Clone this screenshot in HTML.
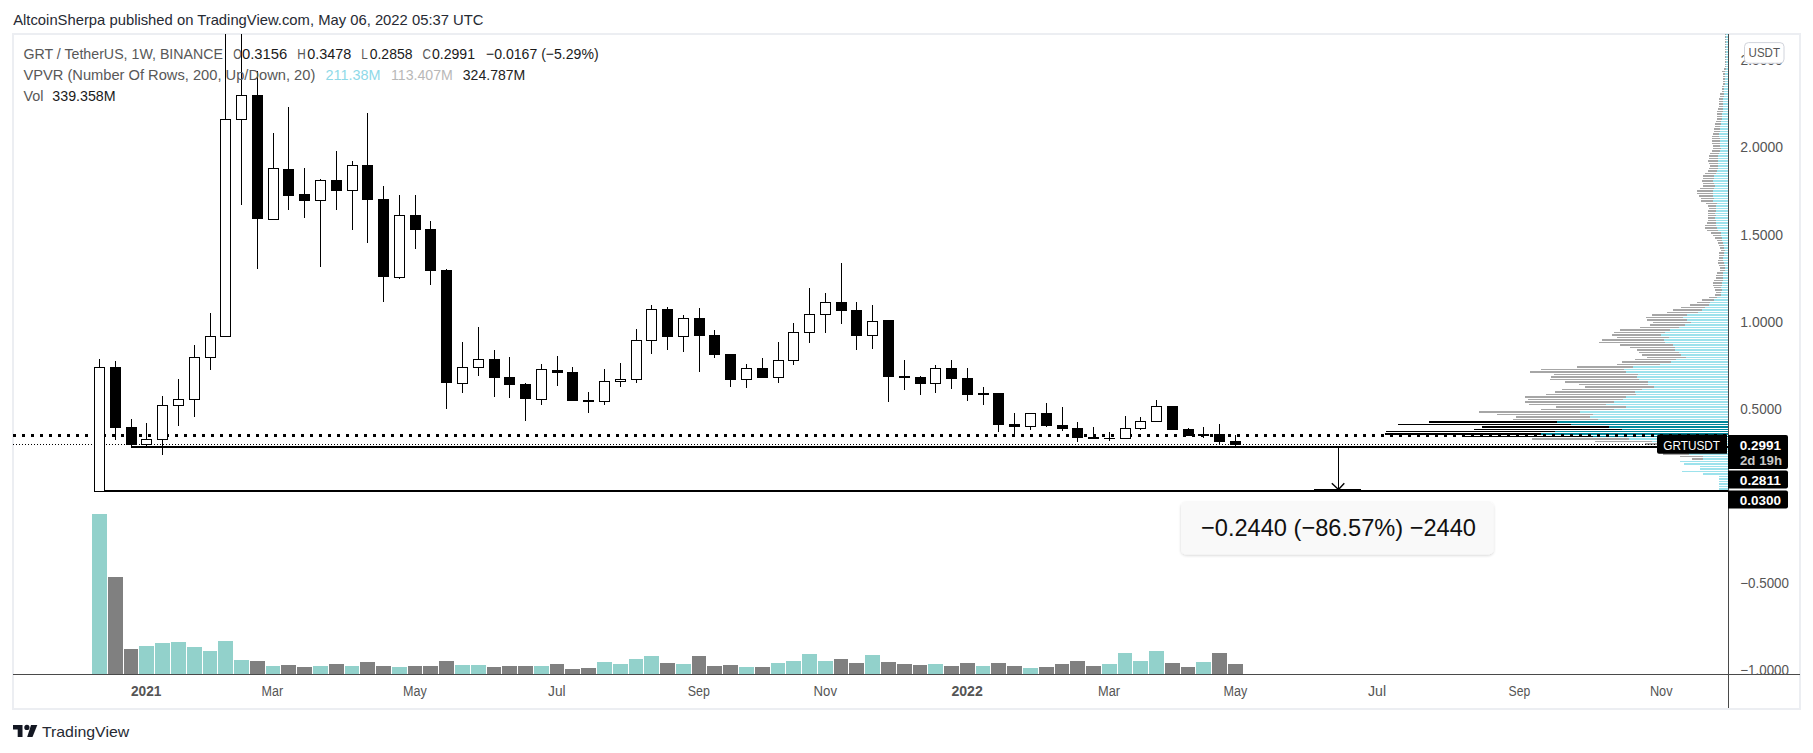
<!DOCTYPE html><html><head><meta charset="utf-8"><style>html,body{margin:0;padding:0;background:#fff}body{width:1813px;height:753px;overflow:hidden;position:relative}svg{position:absolute;left:0;top:0;font-family:"Liberation Sans",sans-serif}</style></head><body><svg width="1813" height="753" viewBox="0 0 1813 753"><rect x="12" y="33" width="1789" height="676" fill="#fff" stroke="none"/><rect x="13" y="34" width="1787" height="675" fill="none" stroke="#eceef2" stroke-width="2"/><g shape-rendering="crispEdges"><rect x="1719" y="488" width="9" height="2" fill="#9ce2ec"/><rect x="1719" y="486" width="9" height="1" fill="#9ce2ec"/><rect x="1719" y="483" width="9" height="2" fill="#9ce2ec"/><rect x="1719" y="481" width="9" height="1" fill="#9ce2ec"/><rect x="1719" y="478" width="9" height="2" fill="#9ce2ec"/><rect x="1719" y="476" width="9" height="1" fill="#9ce2ec"/><rect x="1703" y="473" width="25" height="2" fill="#9ce2ec"/><rect x="1682" y="471" width="46" height="1" fill="#9ce2ec"/><rect x="1700" y="468" width="28" height="2" fill="#9ce2ec"/><rect x="1700" y="466" width="28" height="1" fill="#9ce2ec"/><rect x="1684" y="463" width="44" height="2" fill="#9ce2ec"/><rect x="1680" y="461" width="48" height="1" fill="#9ce2ec"/><rect x="1692" y="458" width="11" height="2" fill="#a6a6a6"/><rect x="1703" y="458" width="25" height="2" fill="#9ce2ec"/><rect x="1680" y="456" width="23" height="1" fill="#a6a6a6"/><rect x="1703" y="456" width="25" height="1" fill="#9ce2ec"/><rect x="1663" y="453" width="26" height="2" fill="#a6a6a6"/><rect x="1689" y="453" width="39" height="2" fill="#9ce2ec"/><rect x="1673" y="451" width="25" height="1" fill="#a6a6a6"/><rect x="1698" y="451" width="30" height="1" fill="#9ce2ec"/><rect x="1668" y="448" width="25" height="2" fill="#a6a6a6"/><rect x="1693" y="448" width="35" height="2" fill="#9ce2ec"/><rect x="1658" y="446" width="30" height="1" fill="#a6a6a6"/><rect x="1688" y="446" width="40" height="1" fill="#9ce2ec"/><rect x="1645" y="443" width="38" height="2" fill="#a6a6a6"/><rect x="1683" y="443" width="45" height="2" fill="#9ce2ec"/><rect x="1595" y="441" width="57" height="1" fill="#a6a6a6"/><rect x="1652" y="441" width="76" height="1" fill="#9ce2ec"/><rect x="1532" y="438" width="97" height="2" fill="#a6a6a6"/><rect x="1629" y="438" width="99" height="2" fill="#9ce2ec"/><rect x="1462" y="436" width="131" height="1" fill="#000"/><rect x="1593" y="436" width="135" height="1" fill="#00879a"/><rect x="1385" y="433" width="156" height="2" fill="#000"/><rect x="1541" y="433" width="187" height="2" fill="#00879a"/><rect x="1386" y="431" width="169" height="1" fill="#000"/><rect x="1555" y="431" width="173" height="1" fill="#00879a"/><rect x="1474" y="429" width="148" height="1" fill="#000"/><rect x="1622" y="429" width="106" height="1" fill="#00879a"/><rect x="1482" y="426" width="127" height="2" fill="#000"/><rect x="1609" y="426" width="119" height="2" fill="#00879a"/><rect x="1398" y="424" width="173" height="1" fill="#000"/><rect x="1571" y="424" width="157" height="1" fill="#00879a"/><rect x="1429" y="421" width="128" height="2" fill="#000"/><rect x="1557" y="421" width="171" height="2" fill="#00879a"/><rect x="1513" y="419" width="85" height="1" fill="#a6a6a6"/><rect x="1598" y="419" width="130" height="1" fill="#9ce2ec"/><rect x="1516" y="416" width="74" height="2" fill="#a6a6a6"/><rect x="1590" y="416" width="138" height="2" fill="#9ce2ec"/><rect x="1497" y="414" width="96" height="1" fill="#a6a6a6"/><rect x="1593" y="414" width="135" height="1" fill="#9ce2ec"/><rect x="1479" y="411" width="101" height="2" fill="#a6a6a6"/><rect x="1580" y="411" width="148" height="2" fill="#9ce2ec"/><rect x="1541" y="409" width="73" height="1" fill="#a6a6a6"/><rect x="1614" y="409" width="114" height="1" fill="#9ce2ec"/><rect x="1556" y="406" width="70" height="2" fill="#a6a6a6"/><rect x="1626" y="406" width="102" height="2" fill="#9ce2ec"/><rect x="1529" y="404" width="77" height="1" fill="#a6a6a6"/><rect x="1606" y="404" width="122" height="1" fill="#9ce2ec"/><rect x="1525" y="401" width="89" height="2" fill="#a6a6a6"/><rect x="1614" y="401" width="114" height="2" fill="#9ce2ec"/><rect x="1528" y="399" width="95" height="1" fill="#a6a6a6"/><rect x="1623" y="399" width="105" height="1" fill="#9ce2ec"/><rect x="1525" y="396" width="101" height="2" fill="#a6a6a6"/><rect x="1626" y="396" width="102" height="2" fill="#9ce2ec"/><rect x="1546" y="394" width="90" height="1" fill="#a6a6a6"/><rect x="1636" y="394" width="92" height="1" fill="#9ce2ec"/><rect x="1555" y="391" width="80" height="2" fill="#a6a6a6"/><rect x="1635" y="391" width="93" height="2" fill="#9ce2ec"/><rect x="1562" y="389" width="80" height="1" fill="#a6a6a6"/><rect x="1642" y="389" width="86" height="1" fill="#9ce2ec"/><rect x="1585" y="386" width="69" height="2" fill="#a6a6a6"/><rect x="1654" y="386" width="74" height="2" fill="#9ce2ec"/><rect x="1579" y="384" width="69" height="1" fill="#a6a6a6"/><rect x="1648" y="384" width="80" height="1" fill="#9ce2ec"/><rect x="1565" y="381" width="83" height="2" fill="#a6a6a6"/><rect x="1648" y="381" width="80" height="2" fill="#9ce2ec"/><rect x="1550" y="379" width="89" height="1" fill="#a6a6a6"/><rect x="1639" y="379" width="89" height="1" fill="#9ce2ec"/><rect x="1551" y="376" width="86" height="2" fill="#a6a6a6"/><rect x="1637" y="376" width="91" height="2" fill="#9ce2ec"/><rect x="1554" y="374" width="84" height="1" fill="#a6a6a6"/><rect x="1638" y="374" width="90" height="1" fill="#9ce2ec"/><rect x="1530" y="371" width="96" height="2" fill="#a6a6a6"/><rect x="1626" y="371" width="102" height="2" fill="#9ce2ec"/><rect x="1541" y="369" width="83" height="1" fill="#a6a6a6"/><rect x="1624" y="369" width="104" height="1" fill="#9ce2ec"/><rect x="1577" y="366" width="56" height="2" fill="#a6a6a6"/><rect x="1633" y="366" width="95" height="2" fill="#9ce2ec"/><rect x="1617" y="364" width="43" height="1" fill="#a6a6a6"/><rect x="1660" y="364" width="68" height="1" fill="#9ce2ec"/><rect x="1622" y="361" width="49" height="2" fill="#a6a6a6"/><rect x="1671" y="361" width="57" height="2" fill="#9ce2ec"/><rect x="1635" y="359" width="41" height="1" fill="#a6a6a6"/><rect x="1676" y="359" width="52" height="1" fill="#9ce2ec"/><rect x="1647" y="357" width="39" height="1" fill="#a6a6a6"/><rect x="1686" y="357" width="42" height="1" fill="#9ce2ec"/><rect x="1642" y="354" width="39" height="2" fill="#a6a6a6"/><rect x="1681" y="354" width="47" height="2" fill="#9ce2ec"/><rect x="1639" y="352" width="40" height="1" fill="#a6a6a6"/><rect x="1679" y="352" width="49" height="1" fill="#9ce2ec"/><rect x="1637" y="349" width="38" height="2" fill="#a6a6a6"/><rect x="1675" y="349" width="53" height="2" fill="#9ce2ec"/><rect x="1630" y="347" width="45" height="1" fill="#a6a6a6"/><rect x="1675" y="347" width="53" height="1" fill="#9ce2ec"/><rect x="1620" y="344" width="53" height="2" fill="#a6a6a6"/><rect x="1673" y="344" width="55" height="2" fill="#9ce2ec"/><rect x="1599" y="342" width="66" height="1" fill="#a6a6a6"/><rect x="1665" y="342" width="63" height="1" fill="#9ce2ec"/><rect x="1602" y="339" width="62" height="2" fill="#a6a6a6"/><rect x="1664" y="339" width="64" height="2" fill="#9ce2ec"/><rect x="1617" y="337" width="52" height="1" fill="#a6a6a6"/><rect x="1669" y="337" width="59" height="1" fill="#9ce2ec"/><rect x="1612" y="334" width="49" height="2" fill="#a6a6a6"/><rect x="1661" y="334" width="67" height="2" fill="#9ce2ec"/><rect x="1614" y="332" width="51" height="1" fill="#a6a6a6"/><rect x="1665" y="332" width="63" height="1" fill="#9ce2ec"/><rect x="1620" y="329" width="50" height="2" fill="#a6a6a6"/><rect x="1670" y="329" width="58" height="2" fill="#9ce2ec"/><rect x="1640" y="327" width="39" height="1" fill="#a6a6a6"/><rect x="1679" y="327" width="49" height="1" fill="#9ce2ec"/><rect x="1650" y="324" width="35" height="2" fill="#a6a6a6"/><rect x="1685" y="324" width="43" height="2" fill="#9ce2ec"/><rect x="1653" y="322" width="38" height="1" fill="#a6a6a6"/><rect x="1691" y="322" width="37" height="1" fill="#9ce2ec"/><rect x="1647" y="319" width="40" height="2" fill="#a6a6a6"/><rect x="1687" y="319" width="41" height="2" fill="#9ce2ec"/><rect x="1646" y="317" width="37" height="1" fill="#a6a6a6"/><rect x="1683" y="317" width="45" height="1" fill="#9ce2ec"/><rect x="1652" y="314" width="35" height="2" fill="#a6a6a6"/><rect x="1687" y="314" width="41" height="2" fill="#9ce2ec"/><rect x="1667" y="312" width="31" height="1" fill="#a6a6a6"/><rect x="1698" y="312" width="30" height="1" fill="#9ce2ec"/><rect x="1673" y="309" width="29" height="2" fill="#a6a6a6"/><rect x="1702" y="309" width="26" height="2" fill="#9ce2ec"/><rect x="1681" y="307" width="24" height="1" fill="#a6a6a6"/><rect x="1705" y="307" width="23" height="1" fill="#9ce2ec"/><rect x="1690" y="304" width="19" height="2" fill="#a6a6a6"/><rect x="1709" y="304" width="19" height="2" fill="#9ce2ec"/><rect x="1697" y="302" width="13" height="1" fill="#a6a6a6"/><rect x="1710" y="302" width="18" height="1" fill="#9ce2ec"/><rect x="1702" y="299" width="12" height="2" fill="#a6a6a6"/><rect x="1714" y="299" width="14" height="2" fill="#9ce2ec"/><rect x="1709" y="297" width="8" height="1" fill="#a6a6a6"/><rect x="1717" y="297" width="11" height="1" fill="#9ce2ec"/><rect x="1715" y="294" width="6" height="2" fill="#a6a6a6"/><rect x="1721" y="294" width="7" height="2" fill="#9ce2ec"/><rect x="1716" y="292" width="5" height="1" fill="#a6a6a6"/><rect x="1721" y="292" width="7" height="1" fill="#9ce2ec"/><rect x="1715" y="289" width="7" height="2" fill="#a6a6a6"/><rect x="1722" y="289" width="6" height="2" fill="#9ce2ec"/><rect x="1714" y="287" width="7" height="1" fill="#a6a6a6"/><rect x="1721" y="287" width="7" height="1" fill="#9ce2ec"/><rect x="1713" y="285" width="9" height="1" fill="#a6a6a6"/><rect x="1722" y="285" width="6" height="1" fill="#9ce2ec"/><rect x="1713" y="282" width="9" height="2" fill="#a6a6a6"/><rect x="1722" y="282" width="6" height="2" fill="#9ce2ec"/><rect x="1714" y="280" width="9" height="1" fill="#a6a6a6"/><rect x="1723" y="280" width="5" height="1" fill="#9ce2ec"/><rect x="1716" y="277" width="7" height="2" fill="#a6a6a6"/><rect x="1723" y="277" width="5" height="2" fill="#9ce2ec"/><rect x="1716" y="275" width="7" height="1" fill="#a6a6a6"/><rect x="1723" y="275" width="5" height="1" fill="#9ce2ec"/><rect x="1717" y="272" width="6" height="2" fill="#a6a6a6"/><rect x="1723" y="272" width="5" height="2" fill="#9ce2ec"/><rect x="1720" y="270" width="5" height="1" fill="#a6a6a6"/><rect x="1725" y="270" width="3" height="1" fill="#9ce2ec"/><rect x="1720" y="267" width="5" height="2" fill="#a6a6a6"/><rect x="1725" y="267" width="3" height="2" fill="#9ce2ec"/><rect x="1719" y="265" width="6" height="1" fill="#a6a6a6"/><rect x="1725" y="265" width="3" height="1" fill="#9ce2ec"/><rect x="1718" y="262" width="6" height="2" fill="#a6a6a6"/><rect x="1724" y="262" width="4" height="2" fill="#9ce2ec"/><rect x="1718" y="260" width="5" height="1" fill="#a6a6a6"/><rect x="1723" y="260" width="5" height="1" fill="#9ce2ec"/><rect x="1719" y="257" width="4" height="2" fill="#a6a6a6"/><rect x="1723" y="257" width="5" height="2" fill="#9ce2ec"/><rect x="1719" y="255" width="5" height="1" fill="#a6a6a6"/><rect x="1724" y="255" width="4" height="1" fill="#9ce2ec"/><rect x="1719" y="252" width="5" height="2" fill="#a6a6a6"/><rect x="1724" y="252" width="4" height="2" fill="#9ce2ec"/><rect x="1721" y="250" width="4" height="1" fill="#a6a6a6"/><rect x="1725" y="250" width="3" height="1" fill="#9ce2ec"/><rect x="1720" y="247" width="4" height="2" fill="#a6a6a6"/><rect x="1724" y="247" width="4" height="2" fill="#9ce2ec"/><rect x="1719" y="245" width="5" height="1" fill="#a6a6a6"/><rect x="1724" y="245" width="4" height="1" fill="#9ce2ec"/><rect x="1718" y="242" width="5" height="2" fill="#a6a6a6"/><rect x="1723" y="242" width="5" height="2" fill="#9ce2ec"/><rect x="1717" y="240" width="5" height="1" fill="#a6a6a6"/><rect x="1722" y="240" width="6" height="1" fill="#9ce2ec"/><rect x="1715" y="237" width="7" height="2" fill="#a6a6a6"/><rect x="1722" y="237" width="6" height="2" fill="#9ce2ec"/><rect x="1713" y="235" width="8" height="1" fill="#a6a6a6"/><rect x="1721" y="235" width="7" height="1" fill="#9ce2ec"/><rect x="1711" y="232" width="10" height="2" fill="#a6a6a6"/><rect x="1721" y="232" width="7" height="2" fill="#9ce2ec"/><rect x="1707" y="230" width="11" height="1" fill="#a6a6a6"/><rect x="1718" y="230" width="10" height="1" fill="#9ce2ec"/><rect x="1705" y="227" width="12" height="2" fill="#a6a6a6"/><rect x="1717" y="227" width="11" height="2" fill="#9ce2ec"/><rect x="1705" y="225" width="11" height="1" fill="#a6a6a6"/><rect x="1716" y="225" width="12" height="1" fill="#9ce2ec"/><rect x="1707" y="222" width="9" height="2" fill="#a6a6a6"/><rect x="1716" y="222" width="12" height="2" fill="#9ce2ec"/><rect x="1708" y="220" width="8" height="1" fill="#a6a6a6"/><rect x="1716" y="220" width="12" height="1" fill="#9ce2ec"/><rect x="1708" y="217" width="7" height="2" fill="#a6a6a6"/><rect x="1715" y="217" width="13" height="2" fill="#9ce2ec"/><rect x="1708" y="215" width="8" height="1" fill="#a6a6a6"/><rect x="1716" y="215" width="12" height="1" fill="#9ce2ec"/><rect x="1708" y="213" width="7" height="1" fill="#a6a6a6"/><rect x="1715" y="213" width="13" height="1" fill="#9ce2ec"/><rect x="1708" y="210" width="8" height="2" fill="#a6a6a6"/><rect x="1716" y="210" width="12" height="2" fill="#9ce2ec"/><rect x="1709" y="208" width="7" height="1" fill="#a6a6a6"/><rect x="1716" y="208" width="12" height="1" fill="#9ce2ec"/><rect x="1708" y="205" width="8" height="2" fill="#a6a6a6"/><rect x="1716" y="205" width="12" height="2" fill="#9ce2ec"/><rect x="1706" y="203" width="11" height="1" fill="#a6a6a6"/><rect x="1717" y="203" width="11" height="1" fill="#9ce2ec"/><rect x="1701" y="200" width="12" height="2" fill="#a6a6a6"/><rect x="1713" y="200" width="15" height="2" fill="#9ce2ec"/><rect x="1701" y="198" width="13" height="1" fill="#a6a6a6"/><rect x="1714" y="198" width="14" height="1" fill="#9ce2ec"/><rect x="1699" y="195" width="14" height="2" fill="#a6a6a6"/><rect x="1713" y="195" width="15" height="2" fill="#9ce2ec"/><rect x="1697" y="193" width="16" height="1" fill="#a6a6a6"/><rect x="1713" y="193" width="15" height="1" fill="#9ce2ec"/><rect x="1697" y="190" width="16" height="2" fill="#a6a6a6"/><rect x="1713" y="190" width="15" height="2" fill="#9ce2ec"/><rect x="1700" y="188" width="14" height="1" fill="#a6a6a6"/><rect x="1714" y="188" width="14" height="1" fill="#9ce2ec"/><rect x="1703" y="185" width="12" height="2" fill="#a6a6a6"/><rect x="1715" y="185" width="13" height="2" fill="#9ce2ec"/><rect x="1703" y="183" width="11" height="1" fill="#a6a6a6"/><rect x="1714" y="183" width="14" height="1" fill="#9ce2ec"/><rect x="1702" y="180" width="11" height="2" fill="#a6a6a6"/><rect x="1713" y="180" width="15" height="2" fill="#9ce2ec"/><rect x="1703" y="178" width="11" height="1" fill="#a6a6a6"/><rect x="1714" y="178" width="14" height="1" fill="#9ce2ec"/><rect x="1703" y="175" width="11" height="2" fill="#a6a6a6"/><rect x="1714" y="175" width="14" height="2" fill="#9ce2ec"/><rect x="1705" y="173" width="11" height="1" fill="#a6a6a6"/><rect x="1716" y="173" width="12" height="1" fill="#9ce2ec"/><rect x="1708" y="170" width="9" height="2" fill="#a6a6a6"/><rect x="1717" y="170" width="11" height="2" fill="#9ce2ec"/><rect x="1709" y="168" width="9" height="1" fill="#a6a6a6"/><rect x="1718" y="168" width="10" height="1" fill="#9ce2ec"/><rect x="1710" y="165" width="8" height="2" fill="#a6a6a6"/><rect x="1718" y="165" width="10" height="2" fill="#9ce2ec"/><rect x="1709" y="163" width="9" height="1" fill="#a6a6a6"/><rect x="1718" y="163" width="10" height="1" fill="#9ce2ec"/><rect x="1708" y="160" width="10" height="2" fill="#a6a6a6"/><rect x="1718" y="160" width="10" height="2" fill="#9ce2ec"/><rect x="1709" y="158" width="9" height="1" fill="#a6a6a6"/><rect x="1718" y="158" width="10" height="1" fill="#9ce2ec"/><rect x="1709" y="155" width="9" height="2" fill="#a6a6a6"/><rect x="1718" y="155" width="10" height="2" fill="#9ce2ec"/><rect x="1710" y="153" width="9" height="1" fill="#a6a6a6"/><rect x="1719" y="153" width="9" height="1" fill="#9ce2ec"/><rect x="1712" y="150" width="8" height="2" fill="#a6a6a6"/><rect x="1720" y="150" width="8" height="2" fill="#9ce2ec"/><rect x="1713" y="148" width="8" height="1" fill="#a6a6a6"/><rect x="1721" y="148" width="7" height="1" fill="#9ce2ec"/><rect x="1713" y="145" width="7" height="2" fill="#a6a6a6"/><rect x="1720" y="145" width="8" height="2" fill="#9ce2ec"/><rect x="1712" y="143" width="8" height="1" fill="#a6a6a6"/><rect x="1720" y="143" width="8" height="1" fill="#9ce2ec"/><rect x="1712" y="140" width="8" height="2" fill="#a6a6a6"/><rect x="1720" y="140" width="8" height="2" fill="#9ce2ec"/><rect x="1712" y="138" width="8" height="1" fill="#a6a6a6"/><rect x="1720" y="138" width="8" height="1" fill="#9ce2ec"/><rect x="1712" y="136" width="7" height="1" fill="#a6a6a6"/><rect x="1719" y="136" width="9" height="1" fill="#9ce2ec"/><rect x="1713" y="133" width="6" height="2" fill="#a6a6a6"/><rect x="1719" y="133" width="9" height="2" fill="#9ce2ec"/><rect x="1714" y="131" width="6" height="1" fill="#a6a6a6"/><rect x="1720" y="131" width="8" height="1" fill="#9ce2ec"/><rect x="1714" y="128" width="6" height="2" fill="#a6a6a6"/><rect x="1720" y="128" width="8" height="2" fill="#9ce2ec"/><rect x="1715" y="126" width="5" height="1" fill="#a6a6a6"/><rect x="1720" y="126" width="8" height="1" fill="#9ce2ec"/><rect x="1715" y="123" width="6" height="2" fill="#a6a6a6"/><rect x="1721" y="123" width="7" height="2" fill="#9ce2ec"/><rect x="1716" y="121" width="5" height="1" fill="#a6a6a6"/><rect x="1721" y="121" width="7" height="1" fill="#9ce2ec"/><rect x="1717" y="118" width="5" height="2" fill="#a6a6a6"/><rect x="1722" y="118" width="6" height="2" fill="#9ce2ec"/><rect x="1717" y="116" width="5" height="1" fill="#a6a6a6"/><rect x="1722" y="116" width="6" height="1" fill="#9ce2ec"/><rect x="1717" y="113" width="5" height="2" fill="#a6a6a6"/><rect x="1722" y="113" width="6" height="2" fill="#9ce2ec"/><rect x="1717" y="111" width="6" height="1" fill="#a6a6a6"/><rect x="1723" y="111" width="5" height="1" fill="#9ce2ec"/><rect x="1718" y="108" width="5" height="2" fill="#a6a6a6"/><rect x="1723" y="108" width="5" height="2" fill="#9ce2ec"/><rect x="1719" y="106" width="4" height="1" fill="#a6a6a6"/><rect x="1723" y="106" width="5" height="1" fill="#9ce2ec"/><rect x="1719" y="103" width="4" height="2" fill="#a6a6a6"/><rect x="1723" y="103" width="5" height="2" fill="#9ce2ec"/><rect x="1719" y="101" width="4" height="1" fill="#a6a6a6"/><rect x="1723" y="101" width="5" height="1" fill="#9ce2ec"/><rect x="1719" y="98" width="4" height="2" fill="#a6a6a6"/><rect x="1723" y="98" width="5" height="2" fill="#9ce2ec"/><rect x="1720" y="96" width="4" height="1" fill="#a6a6a6"/><rect x="1724" y="96" width="4" height="1" fill="#9ce2ec"/><rect x="1720" y="93" width="4" height="2" fill="#a6a6a6"/><rect x="1724" y="93" width="4" height="2" fill="#9ce2ec"/><rect x="1722" y="91" width="2" height="1" fill="#a6a6a6"/><rect x="1724" y="91" width="4" height="1" fill="#9ce2ec"/><rect x="1722" y="88" width="2" height="2" fill="#a6a6a6"/><rect x="1724" y="88" width="4" height="2" fill="#9ce2ec"/><rect x="1722" y="86" width="2" height="1" fill="#a6a6a6"/><rect x="1724" y="86" width="4" height="1" fill="#9ce2ec"/><rect x="1723" y="83" width="2" height="2" fill="#a6a6a6"/><rect x="1725" y="83" width="3" height="2" fill="#9ce2ec"/><rect x="1723" y="81" width="2" height="1" fill="#a6a6a6"/><rect x="1725" y="81" width="3" height="1" fill="#9ce2ec"/><rect x="1723" y="78" width="2" height="2" fill="#a6a6a6"/><rect x="1725" y="78" width="3" height="2" fill="#9ce2ec"/><rect x="1723" y="76" width="2" height="1" fill="#a6a6a6"/><rect x="1725" y="76" width="3" height="1" fill="#9ce2ec"/><rect x="1723" y="73" width="2" height="2" fill="#a6a6a6"/><rect x="1725" y="73" width="3" height="2" fill="#9ce2ec"/><rect x="1722" y="71" width="3" height="1" fill="#a6a6a6"/><rect x="1725" y="71" width="3" height="1" fill="#9ce2ec"/><rect x="1724" y="68" width="2" height="2" fill="#a6a6a6"/><rect x="1726" y="68" width="2" height="2" fill="#9ce2ec"/><rect x="1725" y="66" width="1" height="1" fill="#a6a6a6"/><rect x="1726" y="66" width="2" height="1" fill="#9ce2ec"/><rect x="1725" y="64" width="1" height="1" fill="#a6a6a6"/><rect x="1726" y="64" width="2" height="1" fill="#9ce2ec"/><rect x="1725" y="61" width="1" height="2" fill="#a6a6a6"/><rect x="1726" y="61" width="2" height="2" fill="#9ce2ec"/><rect x="1725" y="59" width="1" height="1" fill="#a6a6a6"/><rect x="1726" y="59" width="2" height="1" fill="#9ce2ec"/><rect x="1725" y="56" width="1" height="2" fill="#a6a6a6"/><rect x="1726" y="56" width="2" height="2" fill="#9ce2ec"/><rect x="1725" y="54" width="1" height="1" fill="#a6a6a6"/><rect x="1726" y="54" width="2" height="1" fill="#9ce2ec"/><rect x="1725" y="51" width="1" height="2" fill="#a6a6a6"/><rect x="1726" y="51" width="2" height="2" fill="#9ce2ec"/><rect x="1725" y="49" width="1" height="1" fill="#a6a6a6"/><rect x="1726" y="49" width="2" height="1" fill="#9ce2ec"/><rect x="1725" y="46" width="1" height="2" fill="#a6a6a6"/><rect x="1726" y="46" width="2" height="2" fill="#9ce2ec"/><rect x="1725" y="44" width="1" height="1" fill="#a6a6a6"/><rect x="1726" y="44" width="2" height="1" fill="#9ce2ec"/><rect x="1725" y="41" width="1" height="2" fill="#a6a6a6"/><rect x="1726" y="41" width="2" height="2" fill="#9ce2ec"/><rect x="1725" y="39" width="1" height="1" fill="#a6a6a6"/><rect x="1726" y="39" width="2" height="1" fill="#9ce2ec"/><rect x="1725" y="36" width="1" height="2" fill="#a6a6a6"/><rect x="1726" y="36" width="2" height="2" fill="#9ce2ec"/><rect x="1725" y="34" width="1" height="1" fill="#a6a6a6"/><rect x="1726" y="34" width="2" height="1" fill="#9ce2ec"/></g><g shape-rendering="crispEdges"><rect x="92" y="514" width="15" height="160" fill="#92d1cb"/><rect x="108" y="577" width="15" height="97" fill="#808080"/><rect x="124" y="649" width="14" height="25" fill="#808080"/><rect x="139" y="646" width="15" height="28" fill="#92d1cb"/><rect x="155" y="643" width="15" height="31" fill="#92d1cb"/><rect x="171" y="642" width="15" height="32" fill="#92d1cb"/><rect x="187" y="647" width="15" height="27" fill="#92d1cb"/><rect x="203" y="651" width="14" height="23" fill="#92d1cb"/><rect x="218" y="641" width="15" height="33" fill="#92d1cb"/><rect x="234" y="660" width="15" height="14" fill="#92d1cb"/><rect x="250" y="661" width="15" height="13" fill="#808080"/><rect x="266" y="666" width="14" height="8" fill="#92d1cb"/><rect x="281" y="665" width="15" height="9" fill="#808080"/><rect x="297" y="667" width="15" height="7" fill="#808080"/><rect x="313" y="666" width="15" height="8" fill="#92d1cb"/><rect x="329" y="664" width="15" height="10" fill="#808080"/><rect x="345" y="666" width="14" height="8" fill="#92d1cb"/><rect x="360" y="662" width="15" height="12" fill="#808080"/><rect x="376" y="666" width="15" height="8" fill="#808080"/><rect x="392" y="667" width="15" height="7" fill="#92d1cb"/><rect x="408" y="666" width="14" height="8" fill="#808080"/><rect x="423" y="666" width="15" height="8" fill="#808080"/><rect x="439" y="661" width="15" height="13" fill="#808080"/><rect x="455" y="665" width="15" height="9" fill="#92d1cb"/><rect x="471" y="665" width="15" height="9" fill="#92d1cb"/><rect x="487" y="667" width="14" height="7" fill="#808080"/><rect x="502" y="666" width="15" height="8" fill="#808080"/><rect x="518" y="666" width="15" height="8" fill="#808080"/><rect x="534" y="666" width="15" height="8" fill="#92d1cb"/><rect x="550" y="664" width="14" height="10" fill="#808080"/><rect x="565" y="669" width="15" height="5" fill="#808080"/><rect x="581" y="668" width="15" height="6" fill="#808080"/><rect x="597" y="662" width="15" height="12" fill="#92d1cb"/><rect x="613" y="664" width="15" height="10" fill="#92d1cb"/><rect x="629" y="659" width="14" height="15" fill="#92d1cb"/><rect x="644" y="656" width="15" height="18" fill="#92d1cb"/><rect x="660" y="663" width="15" height="11" fill="#808080"/><rect x="676" y="664" width="15" height="10" fill="#92d1cb"/><rect x="692" y="656" width="14" height="18" fill="#808080"/><rect x="707" y="666" width="15" height="8" fill="#808080"/><rect x="723" y="665" width="15" height="9" fill="#808080"/><rect x="739" y="667" width="15" height="7" fill="#92d1cb"/><rect x="755" y="667" width="15" height="7" fill="#808080"/><rect x="771" y="663" width="14" height="11" fill="#92d1cb"/><rect x="786" y="661" width="15" height="13" fill="#92d1cb"/><rect x="802" y="654" width="15" height="20" fill="#92d1cb"/><rect x="818" y="661" width="15" height="13" fill="#92d1cb"/><rect x="834" y="659" width="14" height="15" fill="#808080"/><rect x="849" y="663" width="15" height="11" fill="#808080"/><rect x="865" y="655" width="15" height="19" fill="#92d1cb"/><rect x="881" y="662" width="15" height="12" fill="#808080"/><rect x="897" y="664" width="15" height="10" fill="#808080"/><rect x="913" y="665" width="14" height="9" fill="#808080"/><rect x="928" y="664" width="15" height="10" fill="#92d1cb"/><rect x="944" y="666" width="15" height="8" fill="#808080"/><rect x="960" y="663" width="15" height="11" fill="#808080"/><rect x="976" y="666" width="14" height="8" fill="#92d1cb"/><rect x="991" y="663" width="15" height="11" fill="#808080"/><rect x="1007" y="666" width="15" height="8" fill="#808080"/><rect x="1023" y="668" width="15" height="6" fill="#92d1cb"/><rect x="1039" y="667" width="15" height="7" fill="#808080"/><rect x="1055" y="664" width="14" height="10" fill="#808080"/><rect x="1070" y="661" width="15" height="13" fill="#808080"/><rect x="1086" y="666" width="15" height="8" fill="#808080"/><rect x="1102" y="664" width="15" height="10" fill="#92d1cb"/><rect x="1118" y="653" width="14" height="21" fill="#92d1cb"/><rect x="1133" y="661" width="15" height="13" fill="#92d1cb"/><rect x="1149" y="651" width="15" height="23" fill="#92d1cb"/><rect x="1165" y="663" width="15" height="11" fill="#808080"/><rect x="1181" y="667" width="14" height="7" fill="#808080"/><rect x="1196" y="662" width="15" height="12" fill="#92d1cb"/><rect x="1212" y="653" width="15" height="21" fill="#808080"/><rect x="1228" y="664" width="15" height="10" fill="#808080"/></g><g shape-rendering="crispEdges"><line x1="13" y1="435.5" x2="1728" y2="435.5" stroke="#000" stroke-width="3" stroke-dasharray="3 6"/><line x1="13" y1="444.5" x2="1728" y2="444.5" stroke="#000" stroke-width="1" stroke-dasharray="1 2"/><rect x="131" y="446" width="1597" height="2" fill="#000"/><rect x="104" y="490" width="1624" height="2" fill="#000"/></g><g shape-rendering="crispEdges"><rect x="99" y="359" width="1" height="132" fill="#000"/><rect x="94.5" y="367.5" width="10" height="124" fill="#fff" stroke="#000" stroke-width="1"/><rect x="115" y="361" width="1" height="79" fill="#000"/><rect x="110" y="367" width="11" height="61" fill="#000"/><rect x="131" y="419" width="1" height="28" fill="#000"/><rect x="126" y="427" width="11" height="18" fill="#000"/><rect x="146" y="423" width="1" height="24" fill="#000"/><rect x="141.5" y="439.5" width="10" height="5" fill="#fff" stroke="#000" stroke-width="1"/><rect x="162" y="396" width="1" height="59" fill="#000"/><rect x="157.5" y="405.5" width="10" height="34" fill="#fff" stroke="#000" stroke-width="1"/><rect x="178" y="379" width="1" height="47" fill="#000"/><rect x="173.5" y="399.5" width="10" height="6" fill="#fff" stroke="#000" stroke-width="1"/><rect x="194" y="345" width="1" height="72" fill="#000"/><rect x="189.5" y="357.5" width="10" height="42" fill="#fff" stroke="#000" stroke-width="1"/><rect x="210" y="313" width="1" height="57" fill="#000"/><rect x="205.5" y="336.5" width="10" height="21" fill="#fff" stroke="#000" stroke-width="1"/><rect x="225" y="34" width="1" height="302" fill="#000"/><rect x="220.5" y="119.5" width="10" height="217" fill="#fff" stroke="#000" stroke-width="1"/><rect x="241" y="34" width="1" height="171" fill="#000"/><rect x="236.5" y="95.5" width="10" height="24" fill="#fff" stroke="#000" stroke-width="1"/><rect x="257" y="71" width="1" height="198" fill="#000"/><rect x="252" y="95" width="11" height="124" fill="#000"/><rect x="273" y="133" width="1" height="86" fill="#000"/><rect x="268.5" y="168.5" width="10" height="51" fill="#fff" stroke="#000" stroke-width="1"/><rect x="288" y="107" width="1" height="103" fill="#000"/><rect x="283" y="169" width="11" height="27" fill="#000"/><rect x="304" y="168" width="1" height="50" fill="#000"/><rect x="299" y="194" width="11" height="7" fill="#000"/><rect x="320" y="179" width="1" height="88" fill="#000"/><rect x="315.5" y="180.5" width="10" height="20" fill="#fff" stroke="#000" stroke-width="1"/><rect x="336" y="151" width="1" height="59" fill="#000"/><rect x="331" y="180" width="11" height="11" fill="#000"/><rect x="352" y="161" width="1" height="69" fill="#000"/><rect x="347.5" y="165.5" width="10" height="25" fill="#fff" stroke="#000" stroke-width="1"/><rect x="367" y="113" width="1" height="130" fill="#000"/><rect x="362" y="165" width="11" height="35" fill="#000"/><rect x="383" y="186" width="1" height="116" fill="#000"/><rect x="378" y="199" width="11" height="78" fill="#000"/><rect x="399" y="195" width="1" height="84" fill="#000"/><rect x="394.5" y="215.5" width="10" height="62" fill="#fff" stroke="#000" stroke-width="1"/><rect x="415" y="195" width="1" height="54" fill="#000"/><rect x="410" y="215" width="11" height="15" fill="#000"/><rect x="430" y="221" width="1" height="64" fill="#000"/><rect x="425" y="229" width="11" height="42" fill="#000"/><rect x="446" y="269" width="1" height="140" fill="#000"/><rect x="441" y="270" width="11" height="113" fill="#000"/><rect x="462" y="342" width="1" height="51" fill="#000"/><rect x="457.5" y="367.5" width="10" height="16" fill="#fff" stroke="#000" stroke-width="1"/><rect x="478" y="327" width="1" height="49" fill="#000"/><rect x="473.5" y="359.5" width="10" height="8" fill="#fff" stroke="#000" stroke-width="1"/><rect x="494" y="350" width="1" height="47" fill="#000"/><rect x="489" y="359" width="11" height="19" fill="#000"/><rect x="509" y="357" width="1" height="41" fill="#000"/><rect x="504" y="377" width="11" height="8" fill="#000"/><rect x="525" y="383" width="1" height="38" fill="#000"/><rect x="520" y="384" width="11" height="15" fill="#000"/><rect x="541" y="364" width="1" height="41" fill="#000"/><rect x="536.5" y="369.5" width="10" height="30" fill="#fff" stroke="#000" stroke-width="1"/><rect x="557" y="356" width="1" height="30" fill="#000"/><rect x="552" y="370" width="11" height="3" fill="#000"/><rect x="572" y="367" width="1" height="34" fill="#000"/><rect x="567" y="372" width="11" height="29" fill="#000"/><rect x="588" y="392" width="1" height="21" fill="#000"/><rect x="583" y="400" width="11" height="2" fill="#000"/><rect x="604" y="369" width="1" height="36" fill="#000"/><rect x="599.5" y="381.5" width="10" height="20" fill="#fff" stroke="#000" stroke-width="1"/><rect x="620" y="363" width="1" height="24" fill="#000"/><rect x="615.5" y="379.5" width="10" height="2" fill="#fff" stroke="#000" stroke-width="1"/><rect x="636" y="329" width="1" height="54" fill="#000"/><rect x="631.5" y="340.5" width="10" height="39" fill="#fff" stroke="#000" stroke-width="1"/><rect x="651" y="305" width="1" height="49" fill="#000"/><rect x="646.5" y="309.5" width="10" height="31" fill="#fff" stroke="#000" stroke-width="1"/><rect x="667" y="307" width="1" height="43" fill="#000"/><rect x="662" y="309" width="11" height="28" fill="#000"/><rect x="683" y="315" width="1" height="37" fill="#000"/><rect x="678.5" y="318.5" width="10" height="18" fill="#fff" stroke="#000" stroke-width="1"/><rect x="699" y="308" width="1" height="64" fill="#000"/><rect x="694" y="318" width="11" height="18" fill="#000"/><rect x="714" y="330" width="1" height="28" fill="#000"/><rect x="709" y="335" width="11" height="20" fill="#000"/><rect x="730" y="354" width="1" height="33" fill="#000"/><rect x="725" y="354" width="11" height="26" fill="#000"/><rect x="746" y="364" width="1" height="24" fill="#000"/><rect x="741.5" y="368.5" width="10" height="11" fill="#fff" stroke="#000" stroke-width="1"/><rect x="762" y="358" width="1" height="20" fill="#000"/><rect x="757" y="368" width="11" height="10" fill="#000"/><rect x="778" y="342" width="1" height="41" fill="#000"/><rect x="773.5" y="360.5" width="10" height="17" fill="#fff" stroke="#000" stroke-width="1"/><rect x="793" y="323" width="1" height="42" fill="#000"/><rect x="788.5" y="332.5" width="10" height="28" fill="#fff" stroke="#000" stroke-width="1"/><rect x="809" y="288" width="1" height="55" fill="#000"/><rect x="804.5" y="314.5" width="10" height="18" fill="#fff" stroke="#000" stroke-width="1"/><rect x="825" y="293" width="1" height="40" fill="#000"/><rect x="820.5" y="302.5" width="10" height="12" fill="#fff" stroke="#000" stroke-width="1"/><rect x="841" y="263" width="1" height="61" fill="#000"/><rect x="836" y="302" width="11" height="9" fill="#000"/><rect x="856" y="302" width="1" height="48" fill="#000"/><rect x="851" y="310" width="11" height="26" fill="#000"/><rect x="872" y="305" width="1" height="44" fill="#000"/><rect x="867.5" y="321.5" width="10" height="14" fill="#fff" stroke="#000" stroke-width="1"/><rect x="888" y="320" width="1" height="82" fill="#000"/><rect x="883" y="320" width="11" height="57" fill="#000"/><rect x="904" y="360" width="1" height="30" fill="#000"/><rect x="899" y="376" width="11" height="2" fill="#000"/><rect x="920" y="376" width="1" height="19" fill="#000"/><rect x="915" y="377" width="11" height="7" fill="#000"/><rect x="935" y="365" width="1" height="28" fill="#000"/><rect x="930.5" y="368.5" width="10" height="15" fill="#fff" stroke="#000" stroke-width="1"/><rect x="951" y="360" width="1" height="29" fill="#000"/><rect x="946" y="368" width="11" height="11" fill="#000"/><rect x="967" y="368" width="1" height="33" fill="#000"/><rect x="962" y="378" width="11" height="17" fill="#000"/><rect x="983" y="387" width="1" height="18" fill="#000"/><rect x="978" y="393" width="11" height="2" fill="#000"/><rect x="998" y="393" width="1" height="39" fill="#000"/><rect x="993" y="393" width="11" height="32" fill="#000"/><rect x="1014" y="413" width="1" height="22" fill="#000"/><rect x="1009" y="424" width="11" height="3" fill="#000"/><rect x="1030" y="413" width="1" height="17" fill="#000"/><rect x="1025.5" y="413.5" width="10" height="13" fill="#fff" stroke="#000" stroke-width="1"/><rect x="1046" y="403" width="1" height="24" fill="#000"/><rect x="1041" y="413" width="11" height="13" fill="#000"/><rect x="1062" y="407" width="1" height="24" fill="#000"/><rect x="1057" y="425" width="11" height="4" fill="#000"/><rect x="1077" y="422" width="1" height="20" fill="#000"/><rect x="1072" y="428" width="11" height="10" fill="#000"/><rect x="1093" y="427" width="1" height="12" fill="#000"/><rect x="1088" y="437" width="11" height="2" fill="#000"/><rect x="1109" y="432" width="1" height="9" fill="#000"/><rect x="1104" y="438" width="11" height="1" fill="#000"/><rect x="1125" y="416" width="1" height="23" fill="#000"/><rect x="1120.5" y="428.5" width="10" height="10" fill="#fff" stroke="#000" stroke-width="1"/><rect x="1140" y="417" width="1" height="13" fill="#000"/><rect x="1135.5" y="421.5" width="10" height="7" fill="#fff" stroke="#000" stroke-width="1"/><rect x="1156" y="400" width="1" height="22" fill="#000"/><rect x="1151.5" y="406.5" width="10" height="15" fill="#fff" stroke="#000" stroke-width="1"/><rect x="1172" y="406" width="1" height="24" fill="#000"/><rect x="1167" y="406" width="11" height="24" fill="#000"/><rect x="1188" y="428" width="1" height="8" fill="#000"/><rect x="1183" y="429" width="11" height="7" fill="#000"/><rect x="1203" y="427" width="1" height="11" fill="#000"/><rect x="1198" y="434" width="11" height="2" fill="#000"/><rect x="1219" y="424" width="1" height="21" fill="#000"/><rect x="1214" y="434" width="11" height="8" fill="#000"/><rect x="1235" y="435" width="1" height="11" fill="#000"/><rect x="1230" y="441" width="11" height="4" fill="#000"/></g><g><rect x="1338" y="448" width="1" height="42" fill="#000"/><path d="M1331.8 483.2 L1338.5 489.5 L1344.3 483.2" fill="none" stroke="#000" stroke-width="1.4"/><rect x="1314" y="489" width="47" height="3" fill="#000"/></g><rect x="1728" y="34" width="1" height="674" fill="#4a4a4a"/><rect x="13" y="674" width="1787" height="1" fill="#4a4a4a"/><text x="13.2" y="25.1" font-size="15" fill="#262a33" textLength="470.3" lengthAdjust="spacingAndGlyphs">AltcoinSherpa published on TradingView.com, May 06, 2022 05:37 UTC</text><text x="23.4" y="58.9" font-size="15" fill="#585858" textLength="199.6" lengthAdjust="spacingAndGlyphs">GRT / TetherUS, 1W, BINANCE</text><text x="233.2" y="58.9" font-size="15" fill="#585858" textLength="8.5" lengthAdjust="spacingAndGlyphs">O</text><text x="242" y="58.9" font-size="15" fill="#1a1a1a" textLength="45.3" lengthAdjust="spacingAndGlyphs">0.3156</text><text x="297.3" y="58.9" font-size="15" fill="#585858" textLength="8.5" lengthAdjust="spacingAndGlyphs">H</text><text x="307.2" y="58.9" font-size="15" fill="#1a1a1a" textLength="44.1" lengthAdjust="spacingAndGlyphs">0.3478</text><text x="361.3" y="58.9" font-size="15" fill="#585858" textLength="6.5" lengthAdjust="spacingAndGlyphs">L</text><text x="369.7" y="58.9" font-size="15" fill="#1a1a1a" textLength="42.8" lengthAdjust="spacingAndGlyphs">0.2858</text><text x="422.6" y="58.9" font-size="15" fill="#585858" textLength="8.5" lengthAdjust="spacingAndGlyphs">C</text><text x="431.9" y="58.9" font-size="15" fill="#1a1a1a" textLength="43.1" lengthAdjust="spacingAndGlyphs">0.2991</text><text x="486" y="58.9" font-size="15" fill="#1a1a1a" textLength="112.6" lengthAdjust="spacingAndGlyphs">−0.0167 (−5.29%)</text><text x="23.4" y="79.9" font-size="15" fill="#585858" textLength="291.9" lengthAdjust="spacingAndGlyphs">VPVR (Number Of Rows, 200, Up/Down, 20)</text><text x="325.5" y="79.9" font-size="15" fill="#8fd9e8" textLength="55.0" lengthAdjust="spacingAndGlyphs">211.38M</text><text x="391" y="79.9" font-size="15" fill="#b8b8b8" textLength="61.9" lengthAdjust="spacingAndGlyphs">113.407M</text><text x="462.8" y="79.9" font-size="15" fill="#222" textLength="62.5" lengthAdjust="spacingAndGlyphs">324.787M</text><text x="23.4" y="100.8" font-size="15" fill="#585858" textLength="20.0" lengthAdjust="spacingAndGlyphs">Vol</text><text x="52.3" y="100.8" font-size="15" fill="#1a1a1a" textLength="63.3" lengthAdjust="spacingAndGlyphs">339.358M</text><text x="1740.3" y="151.8" font-size="14" fill="#555555" textLength="42.8" lengthAdjust="spacingAndGlyphs">2.0000</text><text x="1740.3" y="240" font-size="14" fill="#555555" textLength="42.8" lengthAdjust="spacingAndGlyphs">1.5000</text><text x="1740.3" y="326.5" font-size="14" fill="#555555" textLength="42.8" lengthAdjust="spacingAndGlyphs">1.0000</text><text x="1740.3" y="414" font-size="14" fill="#555555" textLength="41.5" lengthAdjust="spacingAndGlyphs">0.5000</text><text x="1740.3" y="588.1" font-size="14" fill="#555555" textLength="48.7" lengthAdjust="spacingAndGlyphs">−0.5000</text><text x="1740.3" y="675.1" font-size="14" fill="#555555" textLength="48.7" lengthAdjust="spacingAndGlyphs">−1.0000</text><text x="1740.6" y="64.7" font-size="14" fill="#555555" textLength="42.0" lengthAdjust="spacingAndGlyphs">2.5000</text><rect x="1744.5" y="42.6" width="39.5" height="20.6" rx="4" fill="#fff" stroke="#d1d4dc" stroke-width="1"/><text x="1748.6" y="56.9" font-size="13" fill="#555" textLength="31.4" lengthAdjust="spacingAndGlyphs">USDT</text><path d="M1728 435 H1786 a2 2 0 0 1 2 2 V467 a2 2 0 0 1 -2 2 H1728 Z" fill="#000"/><text x="1739.8" y="449.5" font-size="13.5" fill="#fff" font-weight="bold" textLength="41.2" lengthAdjust="spacingAndGlyphs">0.2991</text><text x="1740" y="465.4" font-size="13.5" fill="#c8c8c8" font-weight="bold" textLength="42.0" lengthAdjust="spacingAndGlyphs">2d 19h</text><path d="M1728 470.5 H1786 a2 2 0 0 1 2 2 V486.5 a2 2 0 0 1 -2 2 H1728 Z" fill="#000"/><text x="1739.8" y="484.5" font-size="13.5" fill="#fff" font-weight="bold" textLength="41.2" lengthAdjust="spacingAndGlyphs">0.2811</text><path d="M1728 490.5 H1786 a2 2 0 0 1 2 2 V506.5 a2 2 0 0 1 -2 2 H1728 Z" fill="#000"/><text x="1739.8" y="504.5" font-size="13.5" fill="#fff" font-weight="bold" textLength="41.2" lengthAdjust="spacingAndGlyphs">0.0300</text><path d="M1727 434.6 H1659 a2 2 0 0 0 -2 2 V451.7 a2 2 0 0 0 2 2 H1727 Z" fill="#000"/><text x="1663.3" y="449.5" font-size="13.5" fill="#fff" textLength="56.7" lengthAdjust="spacingAndGlyphs">GRTUSDT</text><defs><filter id="sh" x="-10%" y="-30%" width="120%" height="160%"><feGaussianBlur in="SourceAlpha" stdDeviation="1.5"/><feOffset dy="1" result="b"/><feComponentTransfer><feFuncA type="linear" slope="0.18"/></feComponentTransfer><feMerge><feMergeNode/><feMergeNode in="SourceGraphic"/></feMerge></filter></defs><rect x="1181" y="502" width="312.5" height="52.5" rx="5" fill="#f9f9f9" filter="url(#sh)"/><text x="1201" y="535.8" font-size="24.5" fill="#111" textLength="275.0" lengthAdjust="spacingAndGlyphs">−0.2440 (−86.57%) −2440</text><text x="130.9" y="696.3" font-size="14" fill="#555555" font-weight="bold" textLength="30.5" lengthAdjust="spacingAndGlyphs">2021</text><text x="261.6" y="696.3" font-size="14" fill="#555555" textLength="21.6" lengthAdjust="spacingAndGlyphs">Mar</text><text x="402.9" y="696.3" font-size="14" fill="#555555" textLength="23.8" lengthAdjust="spacingAndGlyphs">May</text><text x="548" y="696.3" font-size="14" fill="#555555" textLength="17.6" lengthAdjust="spacingAndGlyphs">Jul</text><text x="687.8" y="696.3" font-size="14" fill="#555555" textLength="22.1" lengthAdjust="spacingAndGlyphs">Sep</text><text x="813.6" y="696.3" font-size="14" fill="#555555" textLength="23.4" lengthAdjust="spacingAndGlyphs">Nov</text><text x="951.4" y="696.3" font-size="14" fill="#555555" font-weight="bold" textLength="31.4" lengthAdjust="spacingAndGlyphs">2022</text><text x="1098" y="696.3" font-size="14" fill="#555555" textLength="22.1" lengthAdjust="spacingAndGlyphs">Mar</text><text x="1223.4" y="696.3" font-size="14" fill="#555555" textLength="23.8" lengthAdjust="spacingAndGlyphs">May</text><text x="1368" y="696.3" font-size="14" fill="#555555" textLength="18.1" lengthAdjust="spacingAndGlyphs">Jul</text><text x="1508.6" y="696.3" font-size="14" fill="#555555" textLength="21.6" lengthAdjust="spacingAndGlyphs">Sep</text><text x="1649.9" y="696.3" font-size="14" fill="#555555" textLength="22.7" lengthAdjust="spacingAndGlyphs">Nov</text><g fill="#131722"><path d="M13 725 H22.5 V737 H17.7 V729.5 H13 Z"/><circle cx="26.9" cy="727.4" r="2.6"/><path d="M31 725 H37.3 L32.5 737 H27.2 Z"/></g><text x="41.9" y="736.8" font-size="15" fill="#262a33" textLength="87.3" lengthAdjust="spacingAndGlyphs">TradingView</text></svg></body></html>
